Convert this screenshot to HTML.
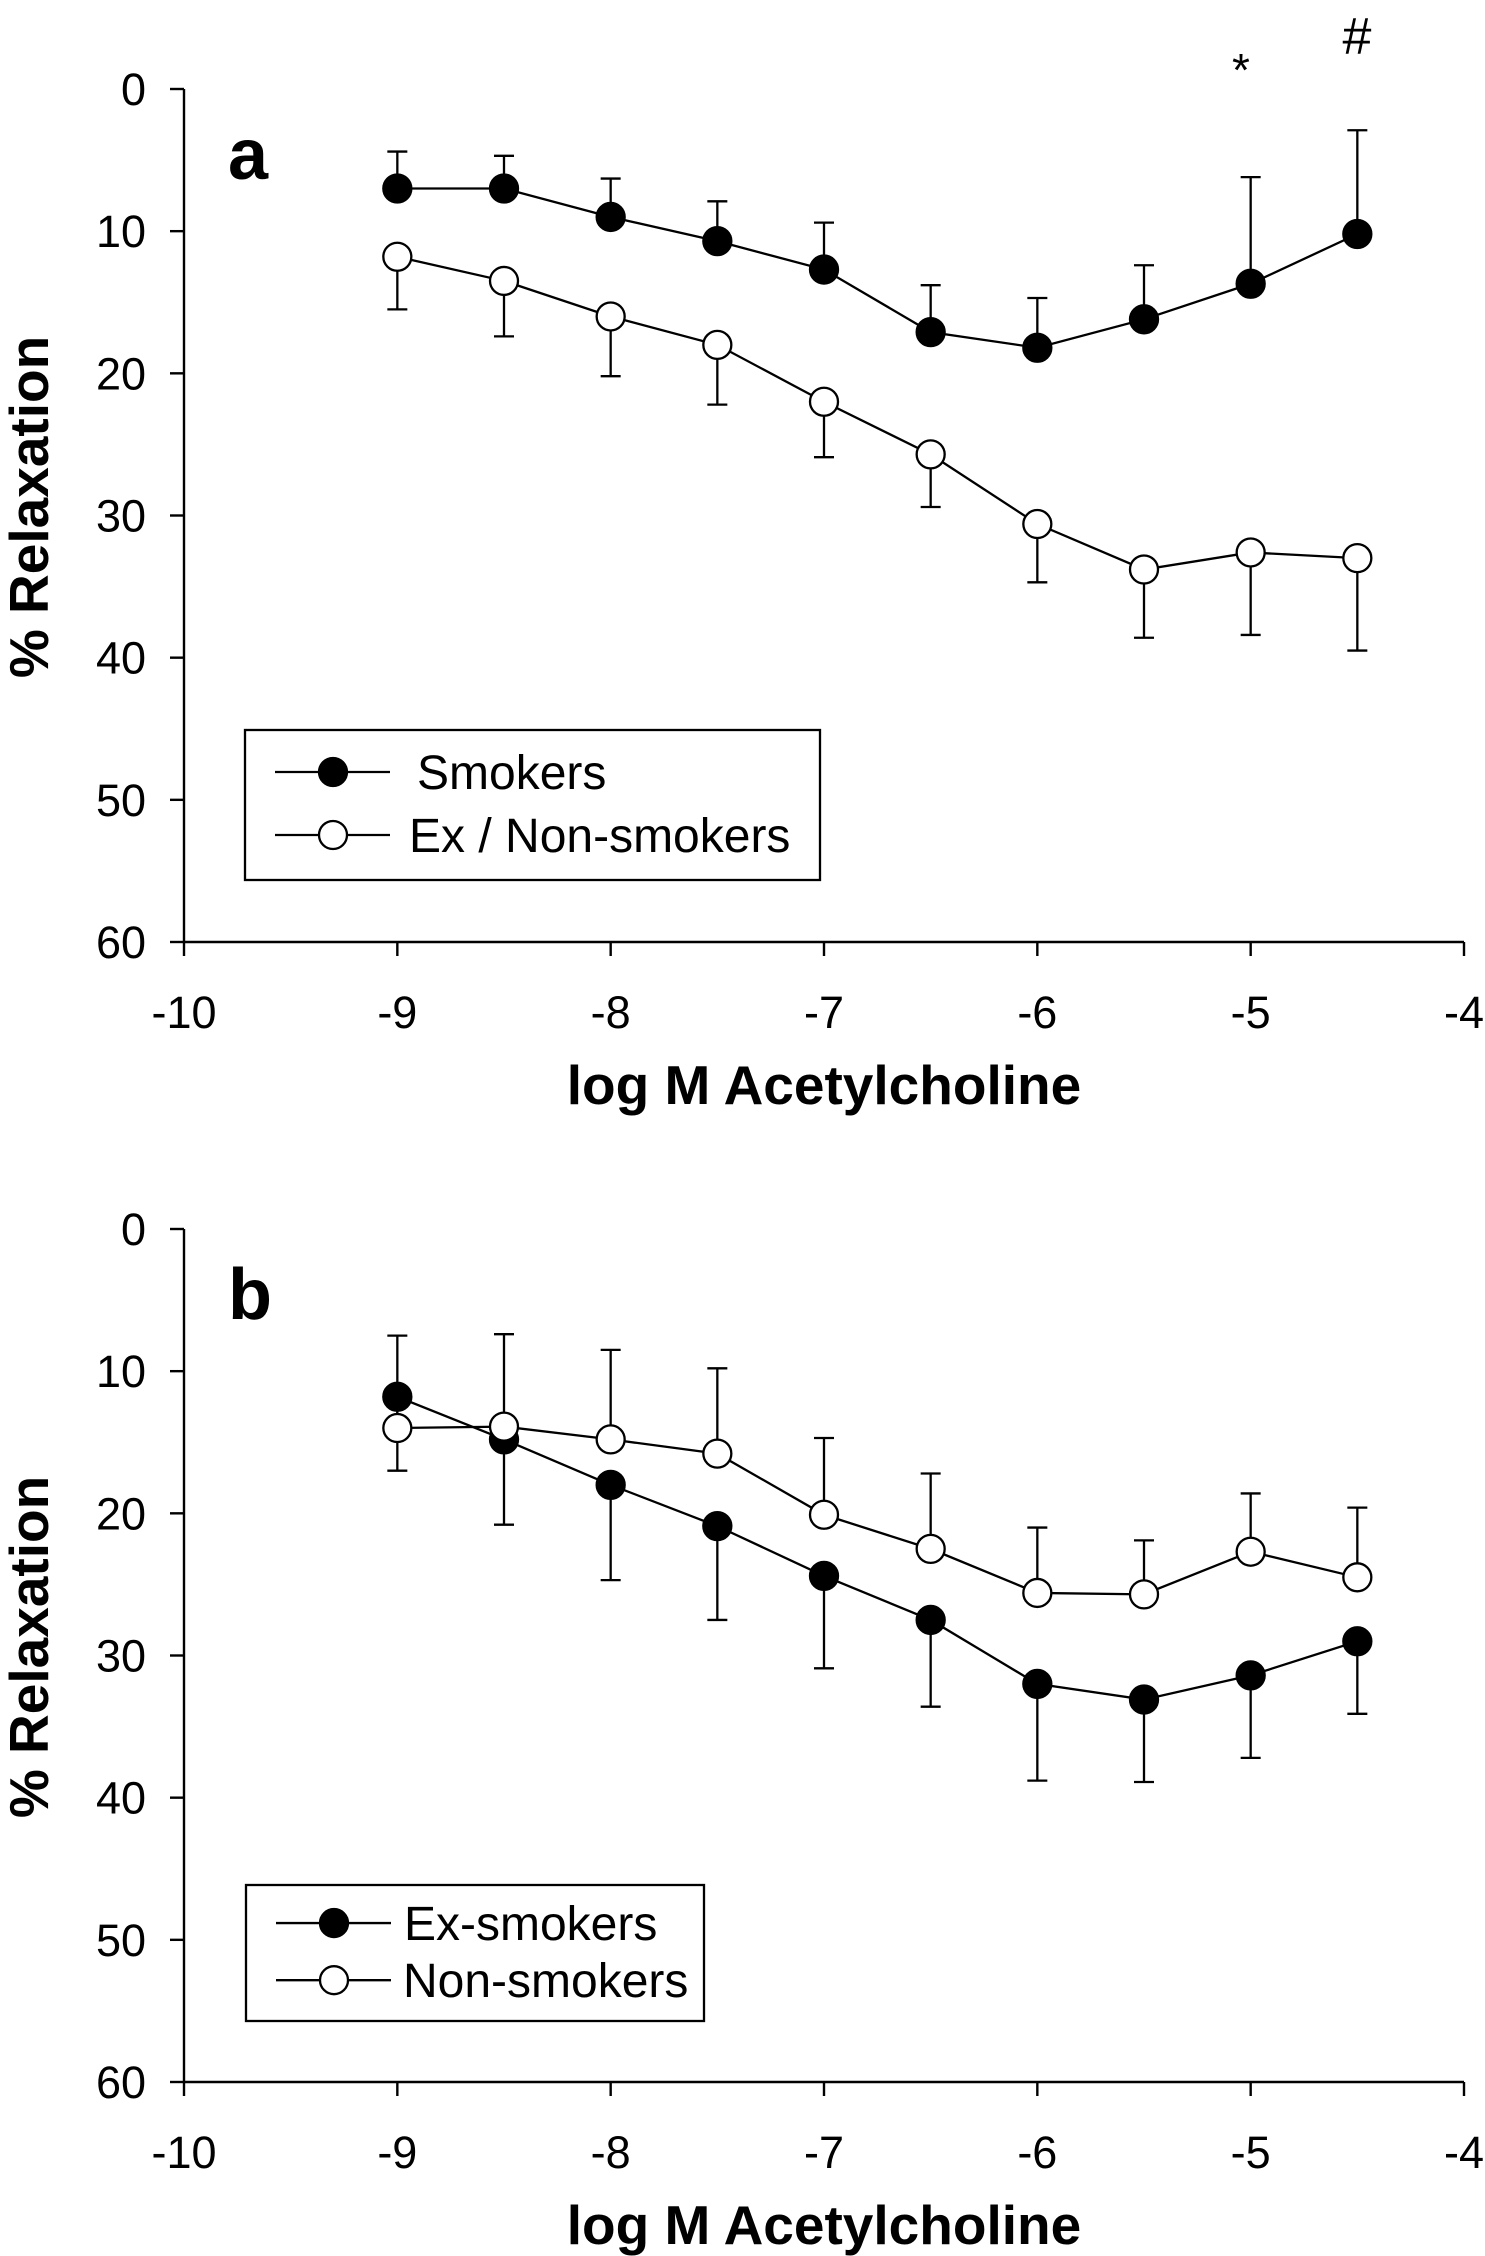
<!DOCTYPE html>
<html><head><meta charset="utf-8"><style>
html,body{margin:0;padding:0;background:#fff;}
svg{display:block;font-family:"Liberation Sans",Arial,sans-serif;}
</style></head><body>
<svg id="fig" width="1485" height="2256" viewBox="0 0 1485 2256" xmlns="http://www.w3.org/2000/svg"></svg>
<script>
const xValues = [-9,-8.5,-8,-7.5,-7,-6.5,-6,-5.5,-5,-4.5];
const xTicks = [-10,-9,-8,-7,-6,-5,-4];
const yTicks = [0,10,20,30,40,50,60];
// Panel a
const aSmokers = [7,7,9,10.7,12.7,17.1,18.2,16.2,13.7,10.2];
const aSmokersErrEnd = [4.4,4.7,6.3,7.9,9.4,13.8,14.7,12.4,6.2,2.9];
const aNon = [11.8,13.5,16,18,22,25.7,30.6,33.8,32.6,33];
const aNonErrEnd = [15.5,17.4,20.2,22.2,25.9,29.4,34.7,38.6,38.4,39.5];
// Panel b
const bEx = [11.8,14.8,18,20.9,24.4,27.5,32,33.1,31.4,29];
const bExErrEnd = [17,20.8,24.7,27.5,30.9,33.6,38.8,38.9,37.2,34.1];
const bNon = [14,13.9,14.8,15.8,20.1,22.5,25.6,25.7,22.7,24.5];
const bNonErrEnd = [7.5,7.4,8.5,9.8,14.7,17.2,21,21.9,18.6,19.6];

const NS="http://www.w3.org/2000/svg";
const svg=document.getElementById('fig');
function el(tag,attrs,parent,text){const e=document.createElementNS(NS,tag);for(const k in attrs)e.setAttribute(k,attrs[k]);if(text!==undefined)e.textContent=text;(parent||svg).appendChild(e);return e;}

function panel(cfg){
  const g=el('g',{});
  
  
  const X=v=>184+(v+10)/6*(1464-184);
  const Y=v=>cfg.y0+v/60*(cfg.y60-cfg.y0);
  const ax=el('path',{d:`M${X(-10)} ${Y(0)} L${X(-10)} ${Y(60)} L${X(-4)} ${Y(60)}`,fill:'none',stroke:'#000','stroke-width':2.4},g);
  
  
  yTicks.forEach(t=>{
    el('line',{x1:X(-10)-14,x2:X(-10),y1:Y(t),y2:Y(t),stroke:'#000','stroke-width':2.4},g);
    const tl=el('text',{x:146,y:Y(t)+16,'text-anchor':'end','font-size':45},g,String(t));
    
    
  });
  xTicks.forEach(t=>{
    el('line',{x1:X(t),x2:X(t),y1:Y(60),y2:Y(60)+14,stroke:'#000','stroke-width':2.4},g);
    const tl=el('text',{x:X(t),y:cfg.y60+86,'text-anchor':'middle','font-size':45},g,String(t));
    
    
  });
  const xt=el('text',{x:824,y:cfg.y60+162,'text-anchor':'middle','font-size':55,'font-weight':'bold'},g,'log M Acetylcholine');
  
  
  const ym=(cfg.y0+cfg.y60)/2-(cfg.y60-cfg.y0)*0.01;
  const yt=el('text',{x:0,y:0,'text-anchor':'middle','font-size':55,'font-weight':'bold',transform:`translate(48 ${ym}) rotate(-90)`},g,'% Relaxation');
  
  
  const pl=el('text',{x:228,y:cfg.y0+90,'font-size':72,'font-weight':'bold'},g,cfg.label);
  
  
  cfg.series.forEach(s=>{
    const sg=el('g',{},g);
    
    
    s.vals.forEach((v,i)=>{
      el('line',{x1:X(xValues[i]),x2:X(xValues[i]),y1:Y(v),y2:Y(s.err[i]),stroke:'#000','stroke-width':2.3},sg);
      el('line',{x1:X(xValues[i])-10,x2:X(xValues[i])+10,y1:Y(s.err[i]),y2:Y(s.err[i]),stroke:'#000','stroke-width':2.3},sg);
    });
    el('polyline',{points:s.vals.map((v,i)=>X(xValues[i])+','+Y(v)).join(' '),fill:'none',stroke:'#000','stroke-width':2.3},sg);
  });
  cfg.series.forEach(s=>{
    s.vals.forEach((v,i)=>{
      const c=el('circle',{cx:X(xValues[i]),cy:Y(v),r:14,fill:s.filled?'#000':'#fff',stroke:'#000','stroke-width':2.3},g);
      
      
    });
  });
  const L=cfg.legend;
  const lg=el('g',{},g);
  
  
  el('rect',{x:L.x,y:L.y,width:L.w,height:L.h,fill:'#fff',stroke:'#000','stroke-width':2.3},lg);
  cfg.series.forEach((s,k)=>{
    const ly=L.y+L.h*(k===0?0.28:0.70);
    const eg=el('g',{},lg);
    
    
    el('line',{x1:L.x+30,x2:L.x+145,y1:ly,y2:ly,stroke:'#000','stroke-width':2.3},eg);
    el('circle',{cx:L.x+88,cy:ly,r:14,fill:s.filled?'#000':'#fff',stroke:'#000','stroke-width':2.3},eg);
    el('text',{x:L.x+L.tx[k],y:ly+17,'font-size':48},eg,s.label);
  });
}
panel({name:'panel-a',label:'a',y0:89,y60:942,
  series:[{name:'series-smokers',label:'Smokers',vals:aSmokers,err:aSmokersErrEnd,filled:true},
          {name:'series-ex-non-smokers',label:'Ex / Non-smokers',vals:aNon,err:aNonErrEnd,filled:false}],
  legend:{x:245,y:730,w:575,h:150,tx:[172,164]}});
panel({name:'panel-b',label:'b',y0:1229,y60:2082,
  series:[{name:'series-ex-smokers',label:'Ex-smokers',vals:bEx,err:bExErrEnd,filled:true},
          {name:'series-non-smokers',label:'Non-smokers',vals:bNon,err:bNonErrEnd,filled:false}],
  legend:{x:246,y:1885,w:458,h:136,tx:[158,157]}});
const st=el('text',{x:1241,y:86,'text-anchor':'middle','font-size':46},svg,'*');


const hs=el('text',{x:1357,y:54,'text-anchor':'middle','font-size':52},svg,'#');


</script>
</body></html>
